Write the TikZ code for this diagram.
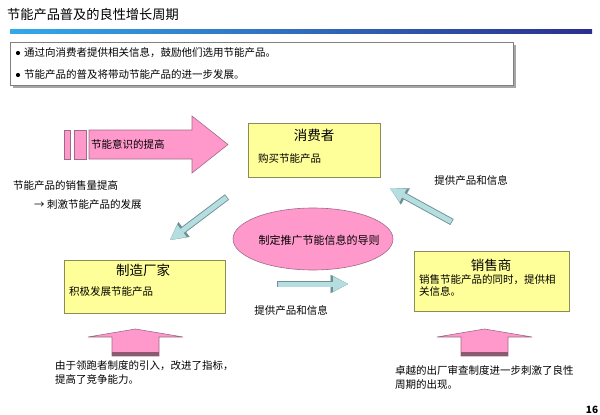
\documentclass[tikz,border=0pt]{standalone}
\usepackage{fontspec}
\setmainfont{Noto Sans CJK SC}
\usetikzlibrary{arrows.meta,positioning,shapes.geometric,calc}
\definecolor{BoxYellow}{HTML}{FFFF99}
\definecolor{BoxEdge}{HTML}{8C8C5A}
\definecolor{PinkFill}{HTML}{FF99CC}
\definecolor{PinkEdge}{HTML}{9E6A86}
\definecolor{PinkBase}{HTML}{8C5A70}
\definecolor{FlowBlue}{HTML}{B4DEE0}
\definecolor{FlowEdge}{HTML}{6F8F92}
\definecolor{BarLeft}{HTML}{33A9EA}
\definecolor{BarRight}{HTML}{2B2F8F}

\begin{document}
\begin{tikzpicture}[x=1pt,y=-1pt,
  actor/.style={rectangle,draw=BoxEdge,fill=BoxYellow,line width=0.7pt,inner sep=0pt},
  head/.style={inner sep=0pt,font=\fontsize{13.5pt}{15pt}\selectfont},
  txt/.style={inner sep=0pt,align=left,font=\fontsize{10.5pt}{14pt}\selectfont},
  flow/.style={line width=5pt,draw=FlowBlue,shorten <=0.8pt,
               -{Triangle[length=15pt,width=15pt,line width=0.01pt]},
               preaction={draw=FlowEdge,line width=6.8pt,shorten <=0pt,
               -{Triangle[length=17.5pt,width=18.5pt,line width=0.01pt]}}},
  lift/.style={fill=PinkFill,draw=PinkEdge,line width=0.6pt}
]
  \useasboundingbox (0,0) rectangle (600,415);

  \node[anchor=west,inner sep=0pt,font=\fontsize{13.2pt}{15pt}\selectfont] (title) at (7,14)
    {节能产品普及的良性增长周期};
  \shade[left color=BarLeft,right color=BarRight] (10,29) rectangle (592,33);

  \fill[gray!70] (13,45) rectangle (516,88);
  \node[rectangle,draw=gray,fill=white,line width=0.7pt,minimum width=503pt,
        minimum height=43pt,inner sep=0pt] (notes) at (261.5,63.5) {};
  \fill (18,53) circle (2.1pt);
  \fill (18,75) circle (2.1pt);
  \node[txt,anchor=west] (note1) at (24,53) {通过向消费者提供相关信息，鼓励他们选用节能产品。};
  \node[txt,anchor=west] (note2) at (24,75) {节能产品的普及将带动节能产品的进一步发展。};

  \draw[lift] (64,130) rectangle (70,159);
  \draw[lift] (74,130) rectangle (86,159);
  \draw[lift] (89,130) -- (192,130) -- (192,116) -- (228,144.5) -- (192,173)
    -- (192,159) -- (89,159) -- cycle;
  \node[txt,anchor=west] (aware) at (91,144.5) {节能意识的提高};

  \node[actor,minimum width=132pt,minimum height=54pt] (cons) at (314,150) {};
  \node[head] (cons-t) at (314,135) {消费者};
  \node[txt,anchor=west] (cons-b) at (258,159) {购买节能产品};

  \node[actor,minimum width=161pt,minimum height=53pt] (make) at (144.5,286.5) {};
  \node[head] (make-t) at (143,270) {制造厂家};
  \node[txt,anchor=west] (make-b) at (69,292) {积极发展节能产品};

  \node[actor,minimum width=155pt,minimum height=60pt] (sell) at (491.5,281) {};
  \node[head] (sell-t) at (491,265) {销售商};
  \node[txt,anchor=north west,font=\fontsize{10.5pt}{12.5pt}\selectfont] (sell-b) at (419,274)
    {销售节能产品的同时，提供相\\关信息。};

  \node[ellipse,fill=PinkFill,draw=PinkEdge,line width=0.6pt,minimum width=160pt,
        minimum height=62pt,inner sep=0pt] (guide) at (313,239) {};
  \node[txt,font=\fontsize{11pt}{13pt}\selectfont] (guide-t) at (319,240) {制定推广节能信息的导则};

  \node[txt,anchor=west] (sales) at (13,186) {节能产品的销售量提高};
  \node[txt,anchor=west] (spur) at (34,205) {→ 刺激节能产品的发展};

  \coordinate (cons-out) at (227,197);
  \coordinate (make-in) at (170,240);
  \coordinate (make-out) at (277,284);
  \coordinate (sell-in) at (348,284);
  \coordinate (sell-out) at (452,222);
  \coordinate (cons-in) at (390,188);
  \draw[flow] (cons-out) -- (make-in);
  \draw[flow] (make-out) -- (sell-in);
  \draw[flow] (sell-out) -- (cons-in);
  \node[txt] (supply1) at (471,180) {提供产品和信息};
  \node[txt] (supply2) at (291,310) {提供产品和信息};

  \draw[lift] (88,337) -- (135.5,329) -- (183,337) -- (159,337) -- (159,356)
    -- (112,356) -- (112,337) -- cycle;
  \fill[PinkBase] (112,352) rectangle (159,356);
  \draw[lift] (437,337) -- (484.5,329) -- (532,337) -- (508,337) -- (508,356)
    -- (461,356) -- (461,337) -- cycle;
  \fill[PinkBase] (461,352) rectangle (508,356);

  \node[txt,anchor=north west] (leader) at (55,360)
    {由于领跑者制度的引入，改进了指标，\\提高了竞争能力。};
  \node[txt,anchor=north west] (review) at (395,365)
    {卓越的出厂审查制度进一步刺激了良性\\周期的出现。};

  \node[inner sep=0pt,font=\bfseries\fontsize{10pt}{12pt}\selectfont] (page) at (592,410) {16};
\end{tikzpicture}
\end{document}
